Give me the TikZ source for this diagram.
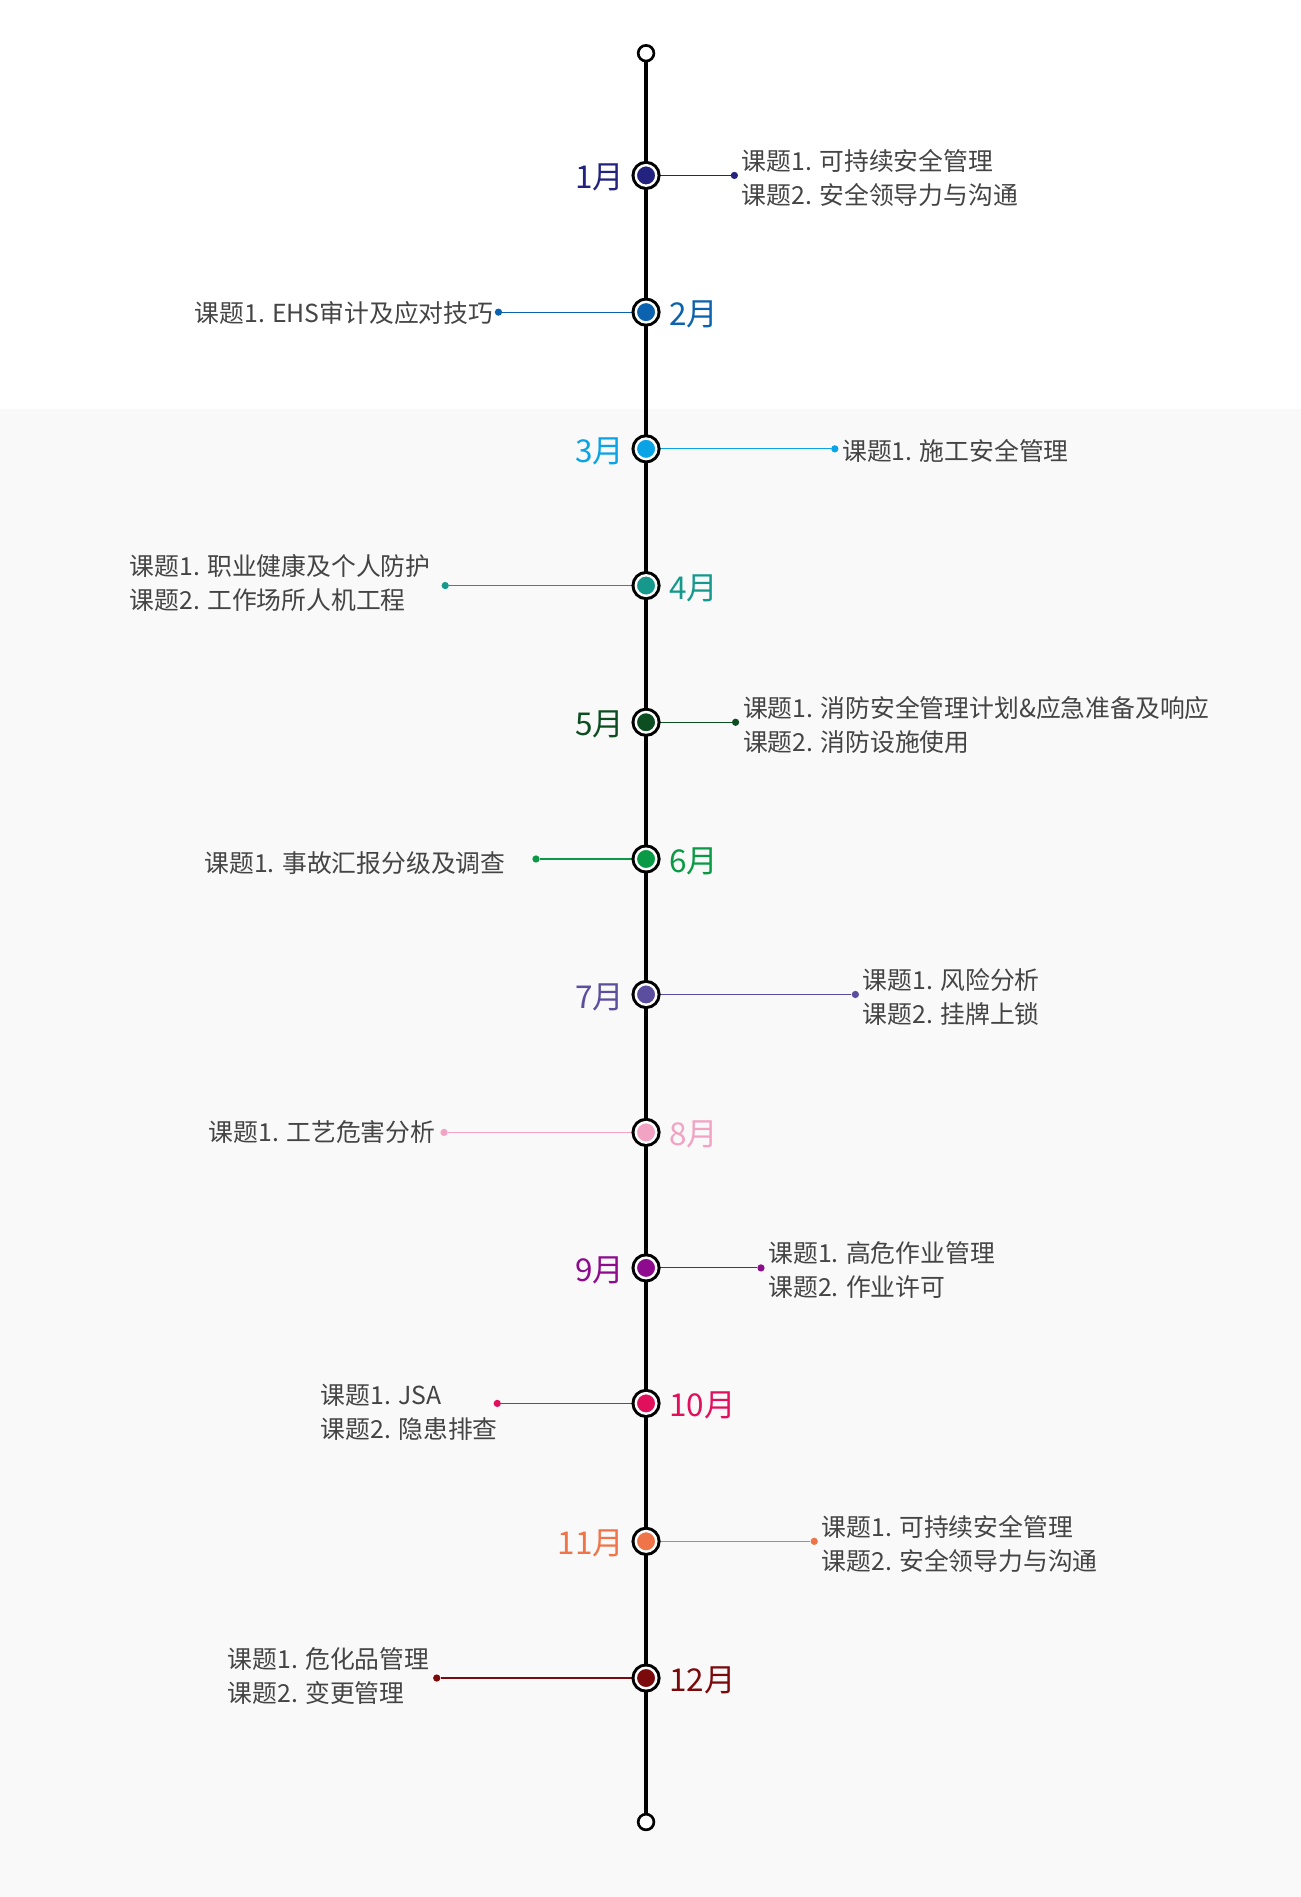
\documentclass[tikz,border=0pt]{standalone}
\usepackage{fontspec}
\setmainfont{Noto Sans CJK SC}
\definecolor{c1}{HTML}{23237F}\definecolor{c2}{HTML}{0B62AE}\definecolor{c3}{HTML}{0AA3E6}
\definecolor{c4}{HTML}{16998C}\definecolor{c5}{HTML}{0C4E22}\definecolor{c6}{HTML}{0A9A45}
\definecolor{c7}{HTML}{5B4E9E}\definecolor{c8}{HTML}{F2A3C3}\definecolor{c9}{HTML}{8E0B8E}
\definecolor{c10}{HTML}{E0105C}\definecolor{c11}{HTML}{EF7447}\definecolor{c12}{HTML}{7A0A0C}
\definecolor{txt}{HTML}{444444}\definecolor{bg}{HTML}{F9F9F9}
\begin{document}
\begin{tikzpicture}[x=1pt,y=-1pt,
 mon/.style={circle,draw=white,line width=2pt,inner sep=0pt,minimum size=17pt,fill=#1,
   preaction={draw=black,line width=7pt}},
 dot/.style={circle,fill=#1,inner sep=0pt,minimum size=6pt},
 conn/.style={draw=#1,line width=0.9pt},
 lab/.style={text=#1,font=\fontsize{26}{28}\selectfont,inner sep=0pt},
 tl/.style={text=txt,font=\fontsize{20.5}{28}\selectfont,align=left,inner sep=0pt},
 tr/.style={text=txt,font=\fontsize{20.5}{28}\selectfont,align=left,inner sep=0pt},
 endc/.style={circle,draw=black,line width=2.2pt,fill=white,inner sep=0pt,minimum size=13pt}]
\useasboundingbox (0,0) rectangle (1075,1568);
\fill[white] (0,0) rectangle (1075,338);
\fill[bg] (0,338) rectangle (1075,1568);
\coordinate (top) at (534,44); \coordinate (bot) at (534,1506);
\draw[line width=3pt] (top) -- (bot);
\node[endc] (e1) at (top) {};
\node[endc] (e2) at (bot) {};
\newcommand\rowR[6]{%
 \node[dot=#2] (d#6) at (#4,#1) {};
 \draw[conn=#2] (534,#1) -- (d#6);
 \node[mon=#2] (m#6) at (534,#1) {};
 \node[lab=#2,anchor=east] (l#6) at (516,#1+2) {#3};
 \node[tr,anchor=west] (t#6) at (#4+6,#1+2) {#5};}
\newcommand\rowL[7]{%
 \node[dot=#2] (d#6) at (#4,#1) {};
 \draw[conn=#2] (534,#1) -- (d#6);
 \node[mon=#2] (m#6) at (534,#1) {};
 \node[lab=#2,anchor=west] (l#6) at (553,#1+2) {#3};
 \node[tl,#7] (t#6) {#5};}
\rowR{145}{c1}{1月}{607}{课题1. 可持续安全管理\\课题2. 安全领导力与沟通}{a}
\rowL{258}{c2}{2月}{412}{课题1. EHS审计及应对技巧}{b}{anchor=east,at={(408,259)}}
\rowR{371}{c3}{3月}{690}{课题1. 施工安全管理}{c}
\rowL{484}{c4}{4月}{368}{课题1. 职业健康及个人防护\\课题2. 工作场所人机工程}{d}{anchor=west,at={(107,482)}}
\rowR{597}{c5}{5月}{608}{课题1. 消防安全管理计划\&应急准备及响应\\课题2. 消防设施使用}{e}
\rowL{710}{c6}{6月}{443}{课题1. 事故汇报分级及调查}{f}{anchor=east,at={(418,713)}}
\rowR{822}{c7}{7月}{707}{课题1. 风险分析\\课题2. 挂牌上锁}{g}
\rowL{936}{c8}{8月}{367}{课题1. 工艺危害分析}{h}{anchor=east,at={(360,936)}}
\rowR{1048}{c9}{9月}{629}{课题1. 高危作业管理\\课题2. 作业许可}{i}
\rowL{1160}{c10}{10月}{411}{课题1. JSA\\课题2. 隐患排查}{j}{anchor=west,at={(265,1167)}}
\rowR{1274}{c11}{11月}{673}{课题1. 可持续安全管理\\课题2. 安全领导力与沟通}{k}
\rowL{1387}{c12}{12月}{361}{课题1. 危化品管理\\课题2. 变更管理}{l}{anchor=west,at={(188,1385)}}
\end{tikzpicture}
\end{document}
